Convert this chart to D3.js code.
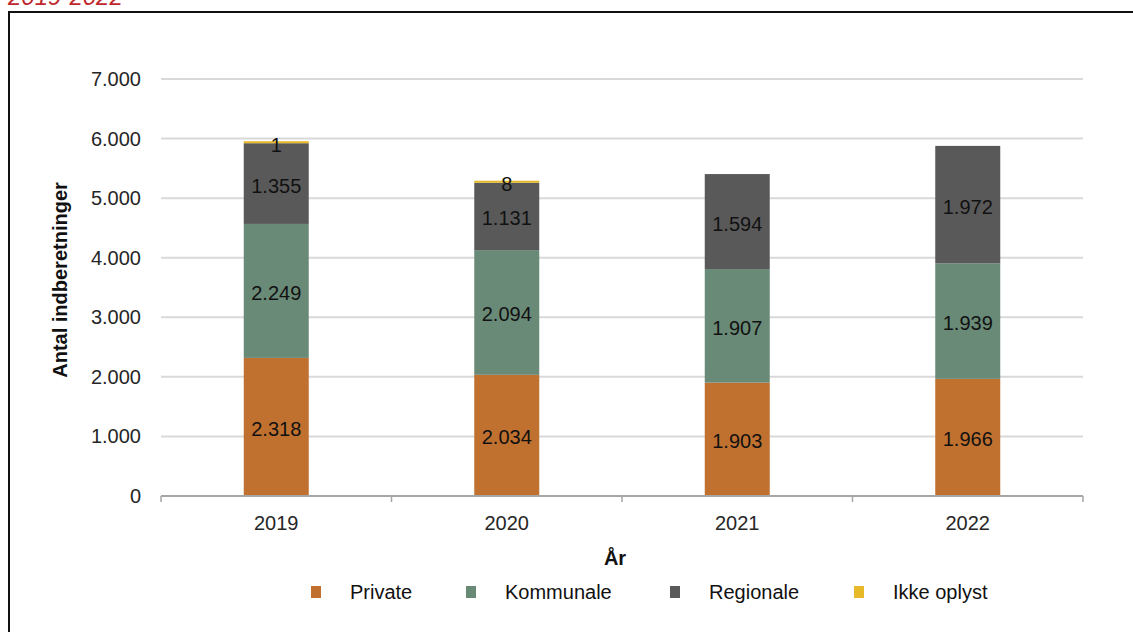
<!DOCTYPE html>
<html>
<head>
<meta charset="utf-8">
<script src="https://cdn.jsdelivr.net/npm/d3@7"></script>
<style>
  body { margin: 0; background: #fff; }
  svg { display: block; font-family: "Liberation Sans", Arial, sans-serif; }
</style>
</head>
<body>
<script>
// data
var years = ['2019', '2020', '2021', '2022'];
var seriesNames = ['Private', 'Kommunale', 'Regionale', 'Ikke oplyst'];
var privateVals = [2318, 2034, 1903, 1966];
var kommunaleVals = [2249, 2094, 1907, 1939];
var regionaleVals = [1355, 1131, 1594, 1972];
var ikkeOplystVals = [1, 8, 0, 0];
var yTicks = [0, 1000, 2000, 3000, 4000, 5000, 6000, 7000];

var colors = ['#c0702f', '#6a8a78', '#595959', '#e8b928'];

var W = 1133, H = 632;
var margin = {top: 79, left: 161, right: 50, bottom: 136};
var w = 1083 - margin.left;
var h = 496 - margin.top;

var svg = d3.select('body').append('svg')
            .attr('width', W)
            .attr('height', H);

// title peeking over the frame (cut off in the original too)
svg.append('text')
   .attr('x', 8)
   .attr('y', 5)
   .attr('fill', '#c0272d')
   .style('font-style', 'italic')
   .style('font-size', '24px')
   .text('2019-2022');

// frame
svg.append('rect')
   .attr('x', 9).attr('y', 12)
   .attr('width', 1200).attr('height', 700)
   .attr('fill', 'none')
   .attr('stroke', '#111')
   .attr('stroke-width', 2);

var table = years.map(function(y, i) {
  return {year: y, 'Private': privateVals[i], 'Kommunale': kommunaleVals[i],
          'Regionale': regionaleVals[i], 'Ikke oplyst': ikkeOplystVals[i]};
});
var stack = d3.stack().keys(seriesNames)(table);

var xScale = d3.scaleBand().domain(years).range([0, w])
               .paddingInner(0.718).paddingOuter(0.359);
var yScale = d3.scaleLinear().domain([0, 7000]).range([h, 0]);

var fmt = function(v) { return d3.format(',')(v).replace(/,/g, '.'); };

var g = svg.append('g')
           .attr('transform', 'translate(' + margin.left + ',' + margin.top + ')');

// gridlines
g.selectAll('.grid')
 .data(yTicks.filter(function(d) { return d > 0; }))
 .enter().append('line')
 .attr('x1', 0).attr('x2', w)
 .attr('y1', function(d) { return yScale(d); })
 .attr('y2', function(d) { return yScale(d); })
 .attr('stroke', '#d9d9d9')
 .attr('stroke-width', 2);

// y tick labels
g.selectAll('.ylab')
 .data(yTicks)
 .enter().append('text')
 .attr('x', -20)
 .attr('y', function(d) { return yScale(d); })
 .attr('dy', '0.35em')
 .attr('text-anchor', 'end')
 .attr('fill', '#262626')
 .style('font-size', '20px')
 .text(fmt);

// bars
var layers = g.selectAll('.layer')
  .data(stack)
  .enter().append('g')
  .attr('fill', function(d, i) { return colors[i]; });

layers.selectAll('rect')
  .data(function(d) { return d; })
  .enter().append('rect')
  .filter(function(d) { return d[1] - d[0] > 0; })
  .attr('x', function(d) { return xScale(d.data.year); })
  .attr('width', xScale.bandwidth())
  .attr('y', function(d) {
    var hh = Math.max(yScale(d[0]) - yScale(d[1]), 2);
    return yScale(d[0]) - hh;
  })
  .attr('height', function(d) { return Math.max(yScale(d[0]) - yScale(d[1]), 2); });

// value labels
layers.each(function(layer, li) {
  d3.select(this).selectAll('text')
    .data(layer.filter(function(d) { return d[1] - d[0] > 0; }))
    .enter().append('text')
    .attr('x', function(d) { return xScale(d.data.year) + xScale.bandwidth() / 2; })
    .attr('y', function(d) {
      if (li === 3) return yScale(d[1]) + 2;
      return yScale((d[0] + d[1]) / 2) + 2;
    })
    .attr('dy', '0.35em')
    .attr('text-anchor', 'middle')
    .attr('fill', '#111')
    .style('font-size', '20px')
    .text(function(d) { return fmt(d[1] - d[0]); });
});

// x axis line and ticks
g.append('line')
 .attr('x1', 0).attr('x2', w)
 .attr('y1', h).attr('y2', h)
 .attr('stroke', '#a6a6a6')
 .attr('stroke-width', 2);

var boundaries = years.map(function(y) { return xScale(y) - xScale.step() * 0.359; });
boundaries.push(w);
g.selectAll('.xtick')
 .data(boundaries)
 .enter().append('line')
 .attr('x1', function(d) { return d; })
 .attr('x2', function(d) { return d; })
 .attr('y1', h).attr('y2', h + 6)
 .attr('stroke', '#a6a6a6')
 .attr('stroke-width', 1.5);

g.selectAll('.xlab')
 .data(years)
 .enter().append('text')
 .attr('x', function(d) { return xScale(d) + xScale.bandwidth() / 2; })
 .attr('y', h + 27)
 .attr('dy', '0.35em')
 .attr('text-anchor', 'middle')
 .attr('fill', '#262626')
 .style('font-size', '20px')
 .text(function(d) { return d; });

// axis titles
svg.append('text')
   .attr('text-anchor', 'middle')
   .attr('transform', 'translate(67,280)rotate(-90)')
   .attr('fill', '#111')
   .style('font-size', '20px')
   .style('font-weight', 'bold')
   .text('Antal indberetninger');

svg.append('text')
   .attr('x', 615).attr('y', 558)
   .attr('dy', '0.35em')
   .attr('text-anchor', 'middle')
   .attr('fill', '#111')
   .style('font-size', '20px')
   .style('font-weight', 'bold')
   .text('År');

// legend
var legendX = [311, 466, 670, 854];
var legend = svg.selectAll('.legend')
  .data(seriesNames)
  .enter().append('g')
  .attr('transform', function(d, i) { return 'translate(' + legendX[i] + ',592)'; });

legend.append('rect')
  .attr('x', 0).attr('y', -6)
  .attr('width', 10).attr('height', 12)
  .attr('fill', function(d, i) { return colors[i]; });

legend.append('text')
  .attr('x', 39)
  .attr('dy', '0.35em')
  .attr('fill', '#111')
  .style('font-size', '20px')
  .text(function(d) { return d; });
</script>
</body>
</html>
